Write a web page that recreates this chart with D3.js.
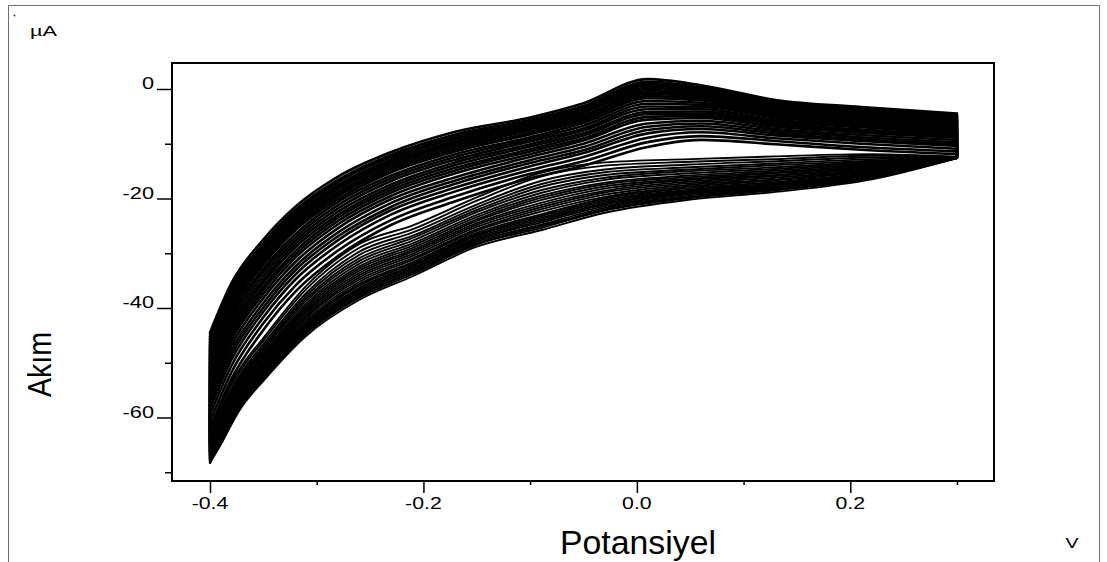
<!DOCTYPE html>
<html><head><meta charset="utf-8">
<script src="https://cdn.jsdelivr.net/npm/d3@7"></script>
<style>
html,body{margin:0;padding:0;background:#fff;}
svg{display:block;}
text{font-family:"Liberation Sans", Arial, sans-serif; fill:#000;}
</style></head><body>
<svg id="chart" width="1107" height="562"></svg>
<script>
// Potentials (V) sampled on the forward (anodic) and reverse (cathodic) sweeps
const forwardPotentials = [-0.40, -0.38, -0.35, -0.32, -0.28, -0.23, -0.17, -0.10, -0.05, 0.01, 0.06, 0.13, 0.21, 0.30];
const reversePotentials = [0.30, 0.22, 0.13, 0.05, -0.03, -0.09, -0.15, -0.21, -0.26, -0.31, -0.35, -0.37, -0.39, -0.40];

// Current (µA) of each successive cycle, forward sweep
const forwardScans = [
  [-62.0, -53.0, -44.0, -37.0, -30.5, -24.8, -20.5, -16.3, -14.0, -10.6, -9.3, -10.1, -11.1, -11.9],
  [-60.8, -51.8, -42.8, -35.9, -29.5, -23.9, -19.6, -15.5, -13.2, -9.7, -8.6, -9.5, -10.6, -11.4],
  [-59.6, -50.6, -41.7, -34.8, -28.5, -22.9, -18.7, -14.8, -12.4, -8.9, -7.9, -9.0, -10.0, -10.9],
  [-58.5, -49.5, -40.7, -33.9, -27.6, -22.1, -18.0, -14.1, -11.7, -8.1, -7.3, -8.5, -9.5, -10.4],
  [-57.6, -48.6, -39.9, -33.1, -26.9, -21.5, -17.3, -13.5, -11.2, -7.5, -6.8, -8.1, -9.2, -10.1],
  [-56.8, -47.8, -39.1, -32.4, -26.2, -20.8, -16.7, -13.0, -10.6, -6.9, -6.3, -7.7, -8.8, -9.7],
  [-55.9, -46.9, -38.2, -31.6, -25.4, -20.1, -16.1, -12.4, -10.0, -6.3, -5.8, -7.3, -8.4, -9.3],
  [-55.0, -46.0, -37.4, -30.8, -24.7, -19.5, -15.4, -11.9, -9.4, -5.6, -5.3, -6.9, -8.0, -8.9],
  [-54.3, -45.3, -36.7, -30.2, -24.1, -18.9, -14.9, -11.4, -9.0, -5.1, -4.9, -6.5, -7.7, -8.6],
  [-53.6, -44.6, -36.1, -29.6, -23.5, -18.4, -14.4, -11.0, -8.5, -4.6, -4.5, -6.2, -7.4, -8.3],
  [-52.9, -43.9, -35.4, -28.9, -23.0, -17.9, -13.9, -10.5, -8.1, -4.2, -4.1, -5.9, -7.0, -8.1],
  [-52.2, -43.2, -34.8, -28.3, -22.4, -17.4, -13.4, -10.1, -7.6, -3.7, -3.7, -5.6, -6.7, -7.8],
  [-51.5, -42.5, -34.1, -27.7, -21.8, -16.8, -12.9, -9.6, -7.2, -3.2, -3.3, -5.2, -6.4, -7.5],
  [-50.8, -41.8, -33.4, -27.1, -21.2, -16.3, -12.4, -9.2, -6.7, -2.7, -2.9, -4.9, -6.1, -7.2],
  [-50.1, -41.1, -32.8, -26.5, -20.6, -15.8, -11.9, -8.8, -6.2, -2.2, -2.5, -4.6, -5.8, -6.9],
  [-49.4, -40.4, -32.1, -25.8, -20.1, -15.2, -11.4, -8.3, -5.8, -1.7, -2.1, -4.3, -5.5, -6.6],
  [-48.9, -39.9, -31.6, -25.4, -19.6, -14.8, -11.0, -8.0, -5.5, -1.3, -1.8, -4.0, -5.3, -6.4],
  [-48.4, -39.4, -31.1, -24.9, -19.2, -14.4, -10.6, -7.6, -5.1, -0.9, -1.5, -3.8, -5.0, -6.1],
  [-47.8, -38.8, -30.6, -24.4, -18.8, -14.0, -10.2, -7.3, -4.8, -0.6, -1.2, -3.5, -4.8, -5.9],
  [-47.3, -38.3, -30.1, -24.0, -18.3, -13.6, -9.8, -7.0, -4.4, -0.2, -0.9, -3.3, -4.5, -5.7],
  [-46.8, -37.8, -29.6, -23.5, -17.9, -13.2, -9.5, -6.6, -4.1, 0.2, -0.6, -3.1, -4.3, -5.5],
  [-46.3, -37.3, -29.2, -23.1, -17.5, -12.8, -9.1, -6.3, -3.7, 0.6, -0.3, -2.8, -4.1, -5.2],
  [-45.7, -36.7, -28.7, -22.6, -17.0, -12.4, -8.7, -6.0, -3.4, 0.9, 0.0, -2.6, -3.8, -5.0],
  [-45.2, -36.2, -28.2, -22.1, -16.6, -12.0, -8.3, -5.6, -3.1, 1.3, 0.3, -2.3, -3.6, -4.8],
  [-44.5, -35.5, -27.5, -21.5, -16.0, -11.5, -7.8, -5.2, -2.6, 1.8, 0.7, -2.0, -3.3, -4.5]
];

// Current (µA) of each successive cycle, reverse sweep (the last sweep stops early)
const reverseScans = [
  [-12.4, -11.9, -12.3, -12.8, -13.4, -15.3, -19.8, -24.9, -28.3, -36.0, -45.5, -50.5, -57.5, -63.0],
  [-12.4, -12.2, -12.8, -13.3, -14.0, -16.0, -20.4, -25.6, -29.0, -36.6, -46.0, -51.0, -58.0, -63.4],
  [-12.4, -12.5, -13.2, -13.8, -14.7, -16.8, -21.1, -26.2, -29.7, -37.3, -46.6, -51.6, -58.6, -63.8],
  [-12.4, -12.8, -13.6, -14.3, -15.2, -17.4, -21.6, -26.8, -30.3, -37.8, -47.1, -52.0, -59.1, -64.1],
  [-12.5, -13.1, -13.9, -14.7, -15.7, -17.9, -22.1, -27.2, -30.9, -38.3, -47.5, -52.4, -59.5, -64.4],
  [-12.5, -13.3, -14.3, -15.0, -16.2, -18.5, -22.5, -27.7, -31.4, -38.7, -47.8, -52.8, -59.8, -64.7],
  [-12.5, -13.5, -14.6, -15.4, -16.6, -19.0, -23.0, -28.2, -31.9, -39.2, -48.2, -53.1, -60.2, -64.9],
  [-12.5, -13.7, -14.9, -15.8, -17.1, -19.5, -23.4, -28.6, -32.4, -39.6, -48.6, -53.5, -60.6, -65.2],
  [-12.5, -13.9, -15.2, -16.1, -17.4, -19.9, -23.8, -29.0, -32.8, -40.0, -48.9, -53.8, -60.9, -65.4],
  [-12.5, -14.1, -15.4, -16.4, -17.8, -20.3, -24.1, -29.4, -33.2, -40.4, -49.2, -54.1, -61.2, -65.6],
  [-12.5, -14.3, -15.7, -16.6, -18.2, -20.8, -24.5, -29.7, -33.6, -40.7, -49.6, -54.4, -61.6, -65.9],
  [-12.5, -14.5, -15.9, -16.9, -18.6, -21.2, -24.8, -30.1, -34.0, -41.1, -49.9, -54.7, -61.9, -66.1],
  [-12.5, -14.7, -16.2, -17.2, -18.9, -21.6, -25.2, -30.5, -34.4, -41.5, -50.2, -55.0, -62.2, -66.3],
  [-12.5, -14.8, -16.5, -17.5, -19.3, -22.0, -25.6, -30.9, -34.8, -41.8, -50.5, -55.3, -62.5, -66.5],
  [-12.5, -15.0, -16.7, -17.8, -19.7, -22.4, -25.9, -31.2, -35.2, -42.2, -50.8, -55.6, -62.8, -66.7],
  [-12.5, -15.2, -17.0, -18.1, -20.0, -22.9, -26.3, -31.6, -35.6, -42.6, -51.1, -55.9, -63.1, -67.0],
  [-12.6, -15.4, -17.2, -18.4, -20.3, -23.2, -26.6, -31.9, -35.9, -42.8, -51.4, -56.1, -63.4, -67.1],
  [-12.6, -15.5, -17.4, -18.6, -20.6, -23.5, -26.8, -32.2, -36.3, -43.1, -51.6, -56.4, -63.6, -67.3],
  [-12.6, -15.6, -17.6, -18.8, -20.9, -23.8, -27.1, -32.4, -36.6, -43.4, -51.8, -56.6, -63.8, -67.5],
  [-12.6, -15.8, -17.8, -19.0, -21.1, -24.1, -27.4, -32.7, -36.9, -43.6, -52.1, -56.8, -64.1, -67.6],
  [-12.6, -15.9, -18.0, -19.2, -21.4, -24.4, -27.6, -33.0, -37.2, -43.9, -52.3, -57.0, -64.3, -67.8],
  [-12.6, -16.0, -18.2, -19.5, -21.7, -24.8, -27.9, -33.3, -37.5, -44.2, -52.5, -57.3, -64.5, -68.0],
  [-12.6, -16.2, -18.3, -19.7, -22.0, -25.1, -28.2, -33.5, -37.8, -44.5, -52.8, -57.5, -64.8, -68.1],
  [-12.6, -16.3, -18.5, -19.9, -22.2, -25.4, -28.4, -33.8, -38.1, -44.7, -53.0, -57.7, -65.0, -68.3],
  [-12.6, -16.5, -18.8, -20.2, -22.6, -25.8, -28.8, -34.2, -38.5, -45.1, -53.3, -58.0, -64.8]
];

// Axis ticks and labels
const xTickValues = [-0.4, -0.2, 0.0, 0.2];
const xTickLabels = ["-0.4", "-0.2", "0.0", "0.2"];
const xMinorTicks = [-0.3, -0.1, 0.1, 0.3];
const yTickValues = [0, -20, -40, -60];
const yTickLabels = ["0", "-20", "-40", "-60"];
const yMinorTicks = [-10, -30, -50, -70];

const xTitle = "Potansiyel";
const yTitle = "Akım";
const xUnit = "V";
const yUnit = "µA";

// ---------- layout ----------
const svg = d3.select("#chart");
const frame = {left: 172, top: 63, right: 994, bottom: 481};

const x = d3.scaleLinear().domain([-0.4, 0.3]).range([210, 957]);
const y = d3.scaleLinear().domain([0, -60]).range([89, 417.5]);

// page border (open at the bottom)
svg.append("path")
  .attr("d", "M8.5,562 L8.5,5.5 L1099.5,5.5 L1099.5,562")
  .attr("fill", "none").attr("stroke", "#707070").attr("stroke-width", 1);
svg.append("circle").attr("cx", 14.5).attr("cy", 15.5).attr("r", 0.9).attr("fill", "#333");

// ---------- voltammogram ----------
const curve = svg.append("g")
  .attr("fill", "none")
  .attr("stroke", "#000")
  .attr("stroke-linejoin", "round")
  .attr("stroke-linecap", "round");

const branch = d3.line().x(d => x(d[0])).y(d => y(d[1])).curve(d3.curveMonotoneX);
const jump = d3.line().x(d => x(d[0])).y(d => y(d[1]));

forwardScans.forEach((fwd, k) => {
  const rev = reverseScans[k];
  const fwdPts = fwd.map((v, i) => [forwardPotentials[i], v]);
  const revPts = rev.map((v, i) => [reversePotentials[i], v]).reverse();
  curve.append("path").attr("d", branch(fwdPts)).attr("stroke-width", 2.6);
  curve.append("path").attr("d", branch(revPts)).attr("stroke-width", 1.9);
  // switching potential at +0.30 V
  curve.append("path").attr("stroke-width", 2.2)
    .attr("d", jump([[forwardPotentials[fwd.length - 1], fwd[fwd.length - 1]], [reversePotentials[0], rev[0]]]));
  // return to -0.40 V and start of the next cycle
  if (k + 1 < forwardScans.length && rev.length === reversePotentials.length) {
    curve.append("path").attr("stroke-width", 2.2)
      .attr("d", jump([[reversePotentials[rev.length - 1], rev[rev.length - 1]], [forwardPotentials[0], forwardScans[k + 1][0]]]));
  }
});

// ---------- frame and axes ----------
svg.append("rect")
  .attr("x", frame.left).attr("y", frame.top)
  .attr("width", frame.right - frame.left).attr("height", frame.bottom - frame.top)
  .attr("fill", "none").attr("stroke", "#000").attr("stroke-width", 2);

const yAxisMajor = d3.axisLeft(y).tickValues(yTickValues).tickSize(15).tickFormat("");
const yAxisMinor = d3.axisLeft(y).tickValues(yMinorTicks).tickSize(7).tickFormat("");
const xAxisMajor = d3.axisBottom(x).tickValues(xTickValues).tickSize(12).tickFormat("");
const xAxisMinor = d3.axisBottom(x).tickValues(xMinorTicks).tickSize(4).tickFormat("");

[[yAxisMajor, `translate(${frame.left},0)`], [yAxisMinor, `translate(${frame.left},0)`],
 [xAxisMajor, `translate(0,${frame.bottom})`], [xAxisMinor, `translate(0,${frame.bottom})`]]
  .forEach(([ax, tr]) => {
    const g = svg.append("g").attr("transform", tr).call(ax);
    g.select(".domain").remove();
    g.selectAll(".tick line").attr("stroke", "#000").attr("stroke-width", 1.5);
  });

// tick labels (wide lettering)
svg.append("g").selectAll("text").data(yTickValues).join("text")
  .attr("transform", d => `translate(154,${y(d)}) scale(1.32,1)`)
  .attr("text-anchor", "end")
  .attr("font-size", 16.5)
  .text((d, i) => yTickLabels[i]);

svg.append("g").selectAll("text").data(xTickValues).join("text")
  .attr("transform", d => `translate(${x(d)},509) scale(1.33,1)`)
  .attr("text-anchor", "middle")
  .attr("font-size", 16)
  .text((d, i) => xTickLabels[i]);

// titles and units
svg.append("text")
  .attr("transform", "translate(638,554)")
  .attr("text-anchor", "middle").attr("font-size", 33)
  .attr("textLength", 156).attr("lengthAdjust", "spacingAndGlyphs")
  .text(xTitle);

svg.append("text")
  .attr("transform", "translate(50.5,364.5) rotate(-90)")
  .attr("text-anchor", "middle").attr("font-size", 33)
  .attr("textLength", 65).attr("lengthAdjust", "spacingAndGlyphs")
  .text(yTitle);

svg.append("text")
  .attr("transform", "translate(30,36) scale(1.4,1)")
  .attr("font-size", 15.5)
  .text(yUnit);

svg.append("text")
  .attr("transform", "translate(1072,548) scale(1.3,1)")
  .attr("text-anchor", "middle").attr("font-size", 15)
  .text(xUnit);
</script>
</body></html>
